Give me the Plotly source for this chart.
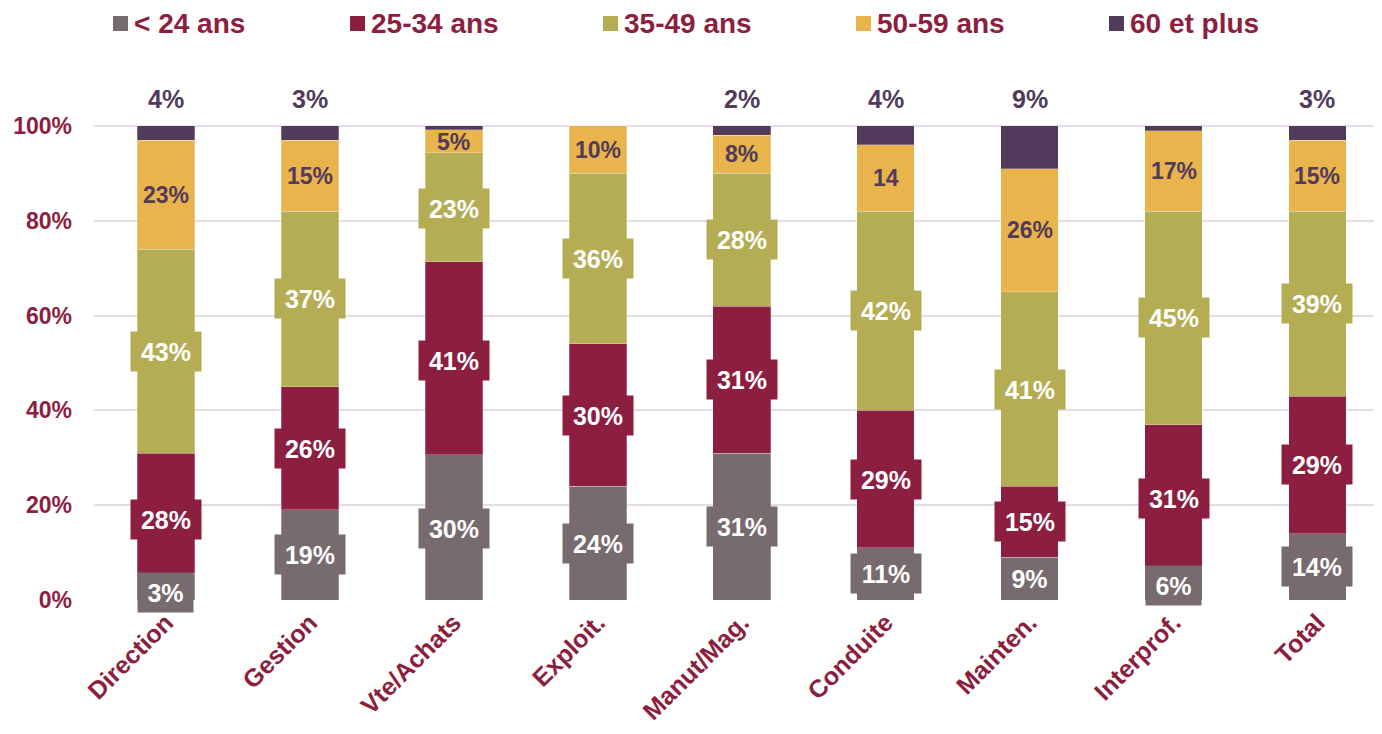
import plotly.graph_objects as go

# ---------------- data ----------------
categories = ["Direction", "Gestion", "Vte/Achats", "Exploit.", "Manut/Mag.",
              "Conduite", "Mainten.", "Interprof.", "Total"]
series_names = ["< 24 ans", "25-34 ans", "35-49 ans", "50-59 ans", "60 et plus"]

# bar heights as drawn (%)
lt24 = [5.6, 19, 30.6, 24, 31, 11, 9, 7, 14]
a25_34 = [25.4, 26, 40.7, 30, 31, 29, 15, 30, 29]
a35_49 = [43, 37, 23, 36, 28, 42, 41, 45, 39]
a50_59 = [23, 15, 4.9, 10, 8, 14, 26, 17, 15]
a60p = [3, 3, 0.8, 0, 2, 4, 9, 1, 3]

# values printed in the labels
label_lt24 = [3, 19, 30, 24, 31, 11, 9, 6, 14]
label_25_34 = [28, 26, 41, 30, 31, 29, 15, 31, 29]
label_35_49 = [43, 37, 23, 36, 28, 42, 41, 45, 39]
label_50_59 = [23, 15, 5, 10, 8, 14, 26, 17, 15]
text_50_59 = ["23%", "15%", "5%", "10%", "8%", "14", "26%", "17%", "15%"]
text_60p = ["4%", "3%", "", "", "2%", "4%", "9%", "", "3%"]

y_ticks = [0, 20, 40, 60, 80, 100]
y_tick_text = ["0%", "20%", "40%", "60%", "80%", "100%"]

# ---------------- style ----------------
colors = ["#786b70", "#8c1e40", "#b4ad54", "#e8b44b", "#523a5a"]
dark = "#523a5a"
red = "#8c1e40"
FONT = "Arial, 'Liberation Sans', sans-serif"

bar_values = [lt24, a25_34, a35_49, a50_59, a60p]

fig = go.Figure()
for name, vals, col in zip(series_names, bar_values, colors):
    fig.add_trace(go.Bar(
        x=categories, y=vals, name=name, marker_color=col,
        marker_line=dict(color="rgba(255,255,255,0.45)", width=0.6),
        width=0.4, showlegend=False, hoverinfo="x+y+name",
    ))

annotations = []
white_labels = [label_lt24, label_25_34, label_35_49]
for i, cat in enumerate(categories):
    base = 0
    for s, lab in enumerate(white_labels):
        v = lab[i]
        txt = f"{v}%"
        annotations.append(dict(
            x=cat, y=base + v / 2, xref="x", yref="y", text=txt, showarrow=False,
            font=dict(family=FONT, size=25, color="white", weight="bold"),
            bgcolor=colors[s], borderpad=5, width=15 * len(txt) + 15, height=29,
        ))
        base += v
    v = label_50_59[i]
    annotations.append(dict(
        x=cat, y=base + v / 2, xref="x", yref="y", text=text_50_59[i], showarrow=False,
        font=dict(family=FONT, size=23, color=dark, weight="bold"),
    ))
    if text_60p[i]:
        annotations.append(dict(
            x=cat, y=105.6, xref="x", yref="y", text=text_60p[i], showarrow=False,
            font=dict(family=FONT, size=25, color=dark, weight="bold"),
        ))

# page body has an 8px margin; figure sized to fill the window exactly
W, H = 1366, 718
ML, MR, MT, MB = 86, 0, 52, 126
plot_w = W - ML - MR
plot_h = H - MT - MB
page_l, page_t = 8 + ML, 8 + MT

# manual legend across the top (page pixel positions)
legend_x = [113, 350, 603, 856, 1109]
shapes = []
for name, col, px in zip(series_names, colors, legend_x):
    x0 = (px - page_l) / plot_w
    x1 = (px + 15 - page_l) / plot_w
    y0 = (page_t + plot_h - 31) / plot_h
    y1 = (page_t + plot_h - 16) / plot_h
    shapes.append(dict(type="rect", xref="paper", yref="paper", x0=x0, x1=x1,
                       y0=y0, y1=y1, fillcolor=col, line=dict(width=0)))
    annotations.append(dict(
        x=(px + 19 - page_l) / plot_w, y=(page_t + plot_h - 23) / plot_h,
        xref="paper", yref="paper", xanchor="left", yanchor="middle",
        text=name, showarrow=False,
        font=dict(family=FONT, size=28, color=red, weight="bold"),
    ))

fig.update_layout(
    width=W, height=H,
    margin=dict(l=ML, r=MR, t=MT, b=MB),
    barmode="stack",
    plot_bgcolor="white", paper_bgcolor="white",
    annotations=annotations, shapes=shapes,
    font=dict(family=FONT),
)
fig.update_xaxes(
    range=[-0.5, -0.5 + plot_w / 143.94], showgrid=False, showline=False, ticks="",
    tickangle=-45, ticklabelstandoff=2, automargin=False,
    tickfont=dict(family=FONT, size=25, color=red, weight="bold"),
)
fig.update_yaxes(
    range=[0, 113.9], tickvals=y_ticks, ticktext=y_tick_text, automargin=False,
    showgrid=True, gridcolor="#e4dce7", gridwidth=1.5, zeroline=False,
    showline=False, ticks="", ticklabelstandoff=21,
    tickfont=dict(family=FONT, size=23, color=red, weight="bold"),
)

fig.write_html("out.html")
